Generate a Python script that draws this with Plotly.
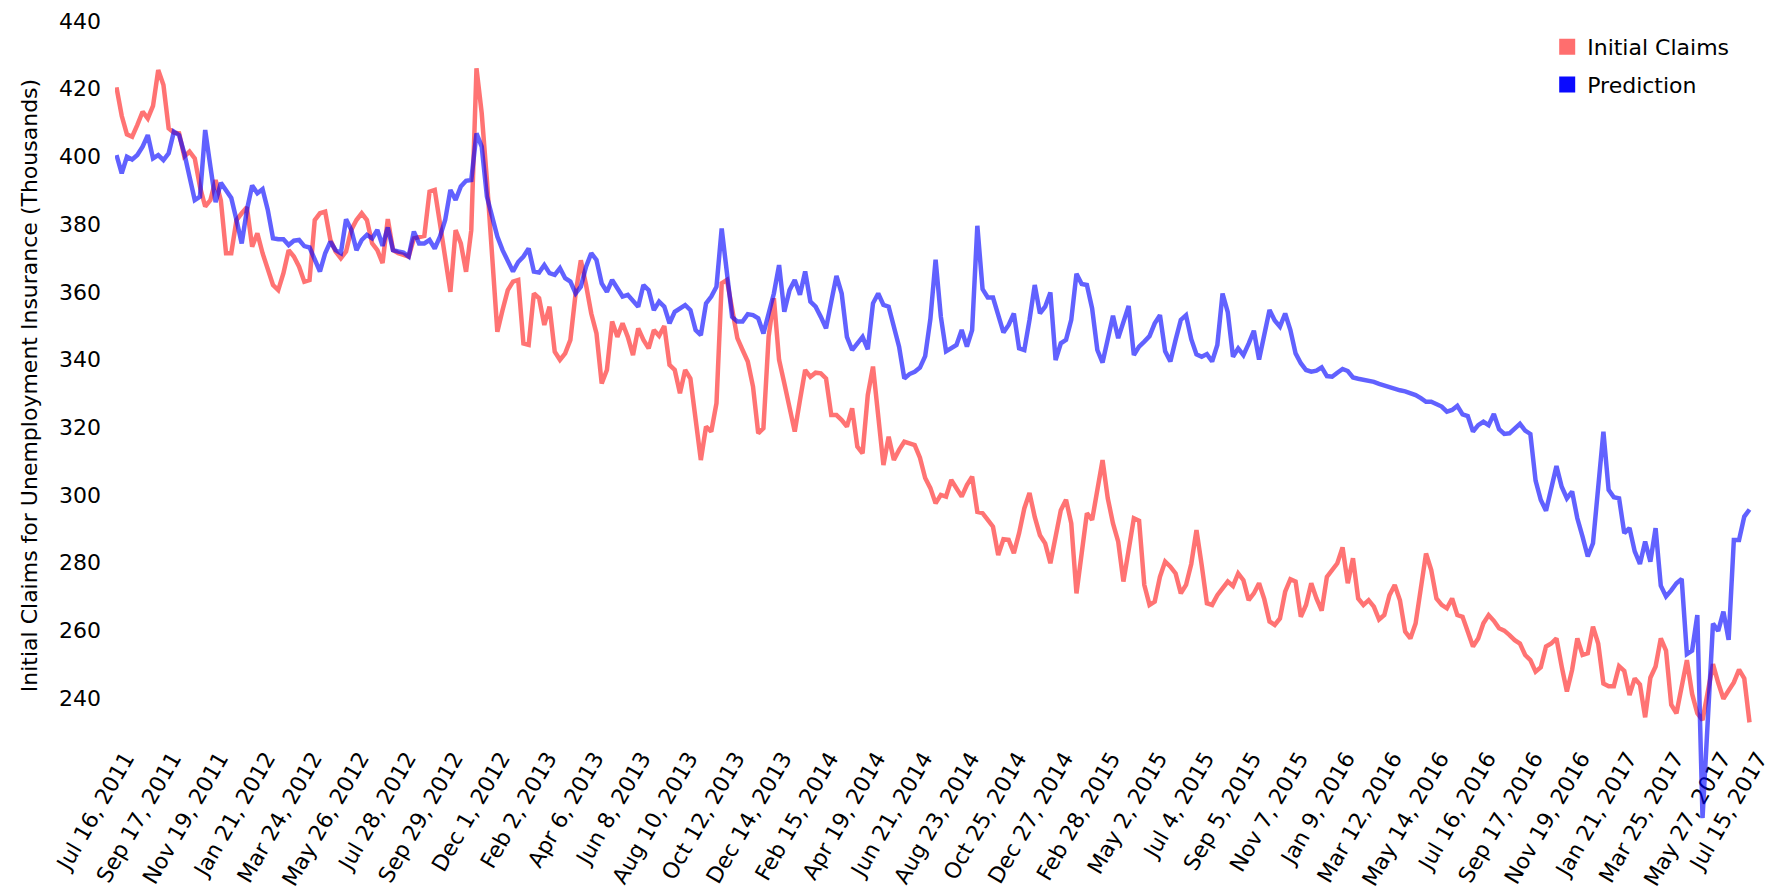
import pandas as pd
import plotly.graph_objects as go

# Weekly series, Jul 16 2011 .. Jul 15 2017 (thousands)
start_date = "2011-07-16"

initial_claims = [
    420.4, 412.0, 406.5, 405.8, 409.3, 413.2, 411.2, 414.9, 425.5, 421.1,
    408.3, 407.0, 406.8, 400.0, 401.4, 399.4, 391.0, 385.2, 387.1, 393.0,
    387.0, 371.4, 371.4, 381.2, 383.2, 385.0, 373.3, 377.3, 371.4, 366.4,
    362.0, 360.5, 365.5, 372.3, 370.4, 367.4, 363.0, 363.5, 381.2, 383.2,
    383.7, 375.3, 371.9, 369.9, 371.9, 378.3, 381.2, 383.2, 381.2, 374.3,
    372.3, 368.5, 381.5, 372.3, 371.4, 370.9, 370.4, 375.8, 376.3, 376.5,
    389.6, 390.1, 380.2, 369.4, 360.0, 378.2, 374.3, 365.9, 378.2, 426.0,
    412.8, 393.0, 368.4, 348.2, 354.6, 360.5, 363.0, 363.5, 344.7, 344.3,
    359.5, 358.1, 350.2, 355.6, 342.3, 339.9, 341.8, 345.8, 359.5, 369.3,
    362.0, 353.6, 347.7, 332.9, 336.9, 351.2, 346.7, 350.7, 346.7, 341.3,
    349.2, 345.8, 343.3, 348.7, 347.0, 349.9, 338.4, 336.9, 330.0, 336.9,
    334.4, 323.1, 310.3, 320.2, 318.7, 327.1, 362.5, 363.5, 354.6, 346.3,
    342.8, 339.4, 332.0, 318.2, 319.7, 346.8, 358.1, 339.9, 333.0, 326.1,
    318.7, 328.0, 336.9, 334.9, 336.1, 335.9, 334.4, 323.6, 323.6, 322.1,
    320.2, 325.6, 314.3, 312.3, 329.5, 337.9, 324.1, 308.8, 317.2, 310.3,
    313.3, 315.7, 315.2, 314.7, 311.0, 305.0, 302.0, 297.5, 300.0, 299.5,
    304.4, 302.0, 299.5, 302.9, 305.4, 295.0, 294.6, 292.6, 290.6, 282.2,
    286.9, 286.7, 282.8, 288.7, 296.0, 300.6, 293.5, 288.1, 285.7, 279.8,
    287.6, 295.5, 298.6, 291.6, 270.9, 282.8, 294.6, 292.6, 301.4, 310.3,
    299.0, 291.6, 286.2, 274.4, 283.7, 293.1, 292.4, 273.4, 267.5, 268.5,
    275.8, 280.3, 278.8, 276.8, 270.9, 273.4, 279.6, 289.6, 279.3, 268.0,
    267.5, 270.4, 272.4, 274.4, 273.1, 276.8, 274.8, 268.9, 270.9, 273.9,
    269.2, 262.6, 261.6, 263.5, 271.4, 275.1, 274.4, 264.0, 267.5, 273.9,
    269.4, 265.8, 275.8, 277.6, 279.8, 284.5, 273.9, 281.3, 269.4, 267.5,
    268.9, 267.0, 263.2, 264.5, 270.4, 273.4, 268.9, 259.6, 257.6, 262.0,
    272.9, 282.7, 277.8, 269.4, 267.5, 266.5, 269.4, 264.5, 264.0, 259.1,
    255.2, 257.6, 262.1, 264.5, 262.8, 260.6, 259.9, 258.6, 257.1, 256.1,
    252.7, 251.2, 247.8, 249.1, 255.2, 256.1, 257.6, 249.3, 241.9, 248.3,
    257.6, 252.7, 253.2, 261.1, 256.1, 244.3, 243.5, 243.5, 249.4, 248.0,
    240.9, 245.8, 244.0, 234.3, 246.0, 249.3, 257.6, 254.0, 238.0, 235.5,
    243.4, 251.2, 241.2, 235.5, 233.5, 241.0, 250.0, 244.5, 239.8, 242.2,
    244.6, 248.4, 245.8, 232.8,
]

prediction = [
    400.4, 395.0, 399.9, 399.1, 400.4, 402.9, 406.3, 399.4, 400.4, 398.9,
    400.9, 407.3, 406.3, 400.9, 394.0, 387.1, 388.1, 407.8, 397.0, 386.5,
    392.2, 390.1, 387.7, 381.2, 374.3, 384.2, 391.4, 389.1, 390.3, 384.2,
    375.8, 375.5, 375.5, 373.8, 375.1, 375.3, 373.5, 373.1, 369.9, 366.0,
    371.4, 374.8, 372.3, 371.4, 381.4, 378.3, 372.3, 375.3, 376.8, 375.8,
    378.3, 373.6, 379.0, 372.3, 371.9, 371.6, 370.4, 377.8, 374.3, 374.3,
    375.3, 372.8, 376.3, 381.2, 390.1, 387.1, 391.1, 392.8, 393.0, 406.8,
    402.9, 388.1, 382.2, 376.3, 372.3, 369.3, 366.0, 368.8, 370.4, 372.8,
    366.0, 365.7, 367.9, 365.5, 365.0, 367.0, 364.0, 363.0, 359.5, 361.5,
    367.4, 371.4, 369.4, 362.5, 360.0, 363.5, 361.0, 358.6, 359.1, 357.1,
    355.6, 362.0, 360.5, 354.6, 357.1, 355.6, 350.7, 354.1, 355.1, 356.1,
    354.6, 348.7, 347.2, 356.6, 358.6, 361.5, 378.7, 366.4, 352.6, 351.2,
    351.2, 353.4, 353.1, 352.2, 347.7, 353.6, 359.5, 367.9, 354.1, 360.5,
    363.5, 359.1, 366.0, 357.1, 355.6, 352.6, 349.2, 357.1, 364.7, 359.5,
    346.7, 342.8, 344.8, 346.7, 343.0, 356.6, 359.5, 356.1, 355.6, 349.7,
    343.8, 334.4, 335.7, 336.4, 337.6, 341.0, 352.0, 369.5, 352.7, 342.4,
    343.3, 344.3, 348.7, 343.8, 348.7, 379.5, 360.8, 358.3, 358.3, 353.1,
    348.0, 350.2, 353.6, 343.3, 342.8, 351.7, 362.0, 353.6, 355.6, 359.8,
    339.8, 344.8, 345.8, 351.7, 365.3, 362.3, 362.0, 355.1, 342.8, 339.1,
    345.8, 352.9, 346.3, 350.7, 355.8, 341.3, 343.8, 345.3, 346.9, 350.7,
    353.1, 342.4, 339.4, 345.8, 351.7, 353.1, 346.0, 341.5, 340.8, 341.6,
    339.4, 344.3, 359.5, 354.0, 340.8, 343.3, 341.3, 344.7, 348.5, 340.0,
    346.7, 354.6, 351.5, 349.7, 353.6, 348.7, 341.8, 338.9, 336.9, 336.4,
    336.7, 337.7, 335.1, 334.9, 336.1, 337.2, 336.6, 334.7, 334.3, 334.1,
    333.8, 333.4, 332.8, 332.3, 331.8, 331.2, 330.9, 330.6, 330.2, 329.5,
    328.6, 327.5, 327.5, 326.8, 326.1, 324.6, 325.1, 326.3, 323.8, 323.3,
    318.7, 320.6, 321.6, 320.6, 323.9, 319.4, 318.0, 318.2, 319.4, 321.0,
    319.0, 318.0, 304.2, 298.5, 295.3, 302.4, 308.5, 302.4, 299.0, 301.0,
    293.1, 287.7, 281.8, 285.7, 302.0, 318.7, 301.5, 299.3, 299.0, 288.7,
    290.2, 283.3, 279.6, 286.2, 280.3, 290.2, 273.2, 270.0, 271.8, 273.9,
    275.2, 253.0, 254.0, 264.5, 204.5, 235.0, 262.0, 259.8, 265.5, 257.2,
    286.7, 286.7, 293.6, 295.7,
]

y_ticks = [240, 260, 280, 300, 320, 340, 360, 380, 400, 420, 440]
tick_every = 9  # weeks between date labels

weeks = pd.date_range(start_date, periods=len(initial_claims), freq="7D")
tick_idx = list(range(0, len(weeks), tick_every))
if tick_idx[-1] != len(weeks) - 1:
    tick_idx.append(len(weeks) - 1)
tick_dates = [weeks[i] for i in tick_idx]
tick_text = [f"{d:%b} {d.day}, {d.year}" for d in tick_dates]

FONT = "DejaVu Sans"
RED_LINE = "rgba(255, 0, 0, 0.55)"
BLUE_LINE = "rgba(0, 0, 255, 0.62)"

# Vertical geometry: the data layer spans a taller area than the labelled
# axis so the deepest prediction dip can run below the date axis.
y_top = 445.02
y_data_bottom = 195.1
y_axis_bottom = 219.6
axis_frac = (y_axis_bottom - y_data_bottom) / (y_top - y_data_bottom)

# Horizontal geometry: a little padding before the first week, and extra
# room after the last one so its shifted date label stays inside.
x_range = [weeks[0] - pd.Timedelta(days=2), weeks[-1] + pd.Timedelta(days=20.8)]

fig = go.Figure()

fig.add_trace(go.Scatter(
    x=weeks, y=initial_claims, mode="lines", name="Initial Claims",
    line=dict(color=RED_LINE, width=4.5), showlegend=False,
    xaxis="x2", yaxis="y2",
))
fig.add_trace(go.Scatter(
    x=weeks, y=prediction, mode="lines", name="Prediction",
    line=dict(color=BLUE_LINE, width=4.5), showlegend=False,
    xaxis="x2", yaxis="y2",
))

# Square legend keys, attached to the labelled axes
fig.add_trace(go.Scatter(
    x=[None], y=[None], mode="markers", name="Initial Claims",
    marker=dict(symbol="square", size=20, color="rgb(255, 110, 110)"),
    legendgroup="claims", xaxis="x", yaxis="y",
))
fig.add_trace(go.Scatter(
    x=[None], y=[None], mode="markers", name="Prediction",
    marker=dict(symbol="square", size=20, color="rgb(10, 10, 255)"),
    legendgroup="pred", xaxis="x", yaxis="y",
))

fig.update_layout(
    width=1771,
    height=893,
    margin=dict(l=115, r=6, t=4, b=43, pad=0),
    paper_bgcolor="white",
    plot_bgcolor="rgba(0,0,0,0)",
    font=dict(family=FONT, size=22, color="black"),
    xaxis=dict(
        type="date", domain=[0, 1], range=x_range, anchor="y",
        tickmode="array", tickvals=tick_dates, ticktext=tick_text,
        tickangle=-60, showgrid=False, zeroline=False, showline=False,
        ticks="", tickfont=dict(family=FONT, size=22, color="black"),
        ticklabelstandoff=-27, ticklabelshift=9, ticklabeloverflow="allow",
        automargin=False,
    ),
    yaxis=dict(
        domain=[axis_frac, 1], range=[y_axis_bottom, y_top], anchor="x",
        tickmode="array", tickvals=y_ticks, showgrid=False, zeroline=False,
        showline=False, ticks="", ticklabelstandoff=13,
        tickfont=dict(family=FONT, size=22, color="black"),
        title=dict(text="Initial Claims for Unemployment Insurance (Thousands)",
                   font=dict(family=FONT, size=22, color="black")),
        automargin=False,
    ),
    xaxis2=dict(
        type="date", domain=[0, 1], range=x_range, anchor="y2",
        visible=False, matches="x",
    ),
    yaxis2=dict(
        domain=[0, 1], range=[y_data_bottom, y_top], anchor="x2",
        visible=False,
    ),
    legend=dict(
        x=0.868, y=0.974, xanchor="left", yanchor="top",
        bgcolor="rgba(255,255,255,0)", borderwidth=0,
        font=dict(family=FONT, size=22, color="black"),
        traceorder="grouped", tracegroupgap=6,
    ),
)

fig.write_html("out.html")
